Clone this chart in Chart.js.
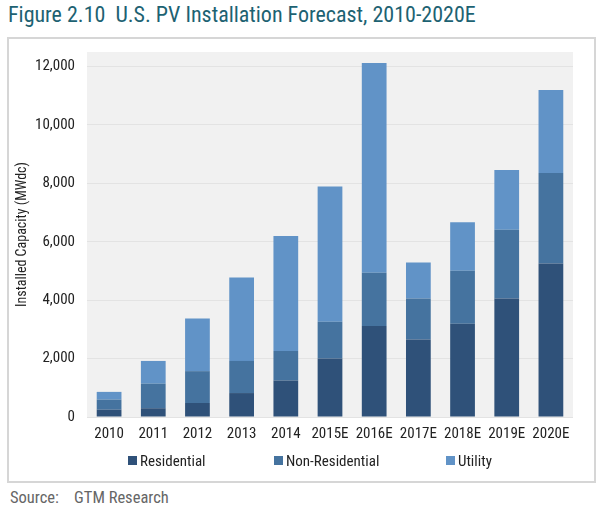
<!DOCTYPE html>
<html>
<head>
<meta charset="utf-8">
<script src="https://cdn.jsdelivr.net/npm/chart.js@4"></script>
<style>
  body { margin: 0; background: #fff; width: 598px; height: 515px; position: relative; overflow: hidden;
         font-family: "Roboto Condensed", "Liberation Sans Narrow", "Arial Narrow", sans-serif; }
  #title { position: absolute; left: 8px; top: 2px; font-size: 22px; color: #1d6272; white-space: pre; }
  #frame { position: absolute; left: 7px; top: 37px; width: 585px; height: 442px;
           border: 2px solid #d6d6d6; }
  #wrap { position: absolute; left: 0; top: 0; width: 585px; height: 442px; }
  #legend { position: absolute; left: 0; top: 0; }
  .item { position: absolute; top: 413px; font-size: 15px; color: #222; white-space: nowrap; line-height: 18px; }
  .box { display: inline-block; width: 9px; height: 9px; margin-right: 3px; vertical-align: 1px; }
  #source { position: absolute; left: 10px; top: 488px; font-size: 16.5px; color: #666; white-space: pre; }
</style>
</head>
<body>
<div id="title">Figure 2.10  U.S. PV Installation Forecast, 2010-2020E</div>
<div id="frame">
  <div id="wrap"><canvas id="myChart"></canvas></div>
  <div id="legend"></div>
</div>
<div id="source">Source:    GTM Research</div>
<script>
// Data (MWdc)
const years = ['2010', '2011', '2012', '2013', '2014', '2015E', '2016E', '2017E', '2018E', '2019E', '2020E'];
const residential = [250, 300, 480, 820, 1250, 2000, 3120, 2650, 3190, 4060, 5260];
const nonResidential = [345, 840, 1090, 1100, 1010, 1260, 1820, 1410, 1820, 2350, 3100];
const utility = [265, 780, 1800, 2860, 3940, 4630, 7180, 1230, 1660, 2050, 2840];
const yTicks = [0, 2000, 4000, 6000, 8000, 10000, 12000];

const fontName = '"Roboto Condensed", "Liberation Sans Narrow", "Arial Narrow", sans-serif';

// grey plot background
const plotBg = {
  id: 'plotBg',
  beforeDraw(chart) {
    const a = chart.chartArea;
    const ctx = chart.ctx;
    ctx.save();
    ctx.fillStyle = '#f1f1f1';
    ctx.fillRect(a.left, a.top, a.right - a.left, a.bottom - a.top);
    ctx.restore();
  }
};

const myChart = document.getElementById('myChart');
const chart = new Chart(myChart, {
  type: 'bar',
  data: {
    labels: years,
    datasets: [
      { label: 'Residential', data: residential, backgroundColor: '#2f5179' },
      { label: 'Non-Residential', data: nonResidential, backgroundColor: '#45739f' },
      { label: 'Utility', data: utility, backgroundColor: '#6193c7' }
    ]
  },
  options: {
    responsive: true,
    maintainAspectRatio: false,
    animation: false,
    datasets: { bar: { categoryPercentage: 1, barPercentage: 0.56 } },
    layout: { padding: { top: 13, right: 21, bottom: 38, left: 0 } },
    plugins: {
      legend: { display: false },
      tooltip: { enabled: false }
    },
    scales: {
      x: {
        stacked: true,
        grid: { display: false },
        border: { display: false },
        ticks: { font: { family: fontName, size: 15 }, color: '#222', maxRotation: 0, padding: 0 }
      },
      y: {
        stacked: true,
        min: 0,
        max: 12500,
        afterBuildTicks(scale) { scale.ticks = yTicks.map(v => ({ value: v })); },
        afterFit(scale) {
          scale.width = 78;
          scale.paddingTop = 0;
          scale.paddingBottom = 0;
        },
        grid: { color: '#e3e3e3', drawTicks: false },
        border: { display: false },
        ticks: {
          font: { family: fontName, size: 15 },
          color: '#222',
          padding: 12,
          callback: v => v.toLocaleString('en-US')
        },
        title: {
          display: true,
          text: 'Installed Capacity (MWdc)',
          font: { family: fontName, size: 14 },
          color: '#222',
          padding: { top: 5, bottom: 0 }
        }
      }
    }
  },
  plugins: [plotBg]
});

// legend drawn as html, built from the datasets
const legendX = [119, 265, 437];
const legend = document.getElementById('legend');
chart.data.datasets.forEach((ds, i) => {
  const item = document.createElement('div');
  item.className = 'item';
  item.style.left = legendX[i] + 'px';
  item.innerHTML = '<span class="box" style="background:' + ds.backgroundColor + '"></span>' + ds.label;
  legend.appendChild(item);
});
</script>
</body>
</html>
